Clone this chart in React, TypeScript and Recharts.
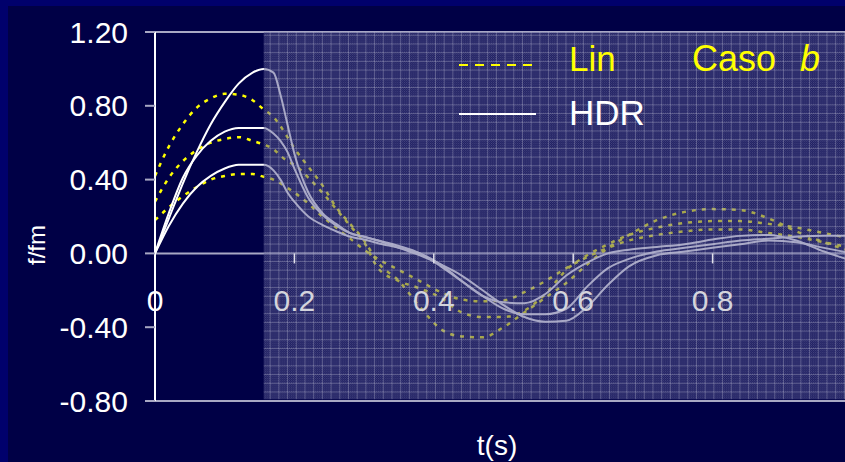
import { LineChart, Line, XAxis, YAxis, ReferenceLine, ReferenceArea } from 'recharts';

const TIME = [0, 0.02, 0.04, 0.06, 0.08, 0.1, 0.12, 0.14, 0.156, 0.17, 0.18, 0.19, 0.2, 0.22, 0.24, 0.26, 0.28, 0.3, 0.32, 0.35, 0.38, 0.41, 0.44, 0.47, 0.5, 0.53, 0.56, 0.59, 0.62, 0.65, 0.68, 0.72, 0.76, 0.8, 0.84, 0.88, 0.92, 0.96, 1.0];

// HDR (solid white)
const HDR_1 = [0, 0.19, 0.38, 0.55, 0.7, 0.82, 0.92, 0.98, 1.0, 0.98, 0.86, 0.7, 0.54, 0.33, 0.22, 0.16, 0.11, 0.09, 0.07, 0.03, -0.01, -0.06, -0.12, -0.2, -0.28, -0.345, -0.37, -0.365, -0.29, -0.17, -0.07, -0.01, 0.01, 0.03, 0.05, 0.07, 0.06, 0.03, 0.0];
const HDR_2 = [0, 0.22, 0.41, 0.53, 0.61, 0.66, 0.68, 0.68, 0.68, 0.65, 0.61, 0.55, 0.46, 0.3, 0.21, 0.15, 0.11, 0.09, 0.07, 0.04, 0.0, -0.07, -0.15, -0.23, -0.3, -0.33, -0.33, -0.3, -0.18, -0.08, -0.03, 0.01, 0.03, 0.05, 0.07, 0.08, 0.09, 0.095, 0.095];
const HDR_3 = [0, 0.15, 0.27, 0.36, 0.42, 0.46, 0.48, 0.48, 0.48, 0.45, 0.4, 0.33, 0.28, 0.2, 0.155, 0.12, 0.09, 0.075, 0.055, 0.03, 0.0, -0.06, -0.15, -0.23, -0.265, -0.27, -0.22, -0.12, -0.05, 0.0, 0.02, 0.035, 0.05, 0.075, 0.095, 0.1, 0.07, 0.01, -0.04];

// Lin (dashed yellow)
const LIN_1 = [0.42, 0.58, 0.7, 0.79, 0.84, 0.865, 0.86, 0.83, 0.78, 0.74, 0.69, 0.63, 0.57, 0.47, 0.37, 0.25, 0.16, 0.07, -0.05, -0.15, -0.29, -0.41, -0.45, -0.455, -0.4, -0.32, -0.24, -0.16, -0.06, 0.03, 0.1, 0.18, 0.225, 0.24, 0.235, 0.19, 0.12, 0.06, 0.01];
const LIN_2 = [0.28, 0.41, 0.5, 0.56, 0.6, 0.62, 0.63, 0.61, 0.59, 0.565, 0.53, 0.5, 0.48, 0.41, 0.33, 0.24, 0.15, 0.06, -0.08, -0.15, -0.19, -0.24, -0.32, -0.345, -0.345, -0.31, -0.22, -0.09, -0.01, 0.05, 0.1, 0.14, 0.165, 0.175, 0.175, 0.16, 0.14, 0.11, 0.08];
const LIN_3 = [0.18, 0.25, 0.31, 0.36, 0.4, 0.42, 0.43, 0.43, 0.415, 0.4, 0.38, 0.355, 0.33, 0.27, 0.2, 0.14, 0.08, 0.02, -0.03, -0.09, -0.15, -0.21, -0.25, -0.26, -0.255, -0.21, -0.15, -0.08, -0.02, 0.03, 0.07, 0.1, 0.12, 0.13, 0.13, 0.11, 0.09, 0.06, 0.03];

const Y_TICKS = [-0.8, -0.4, 0, 0.4, 0.8, 1.2];
const X_TICKS = [0, 0.2, 0.4, 0.6, 0.8];
const LOAD_END = 0.156;

const data = TIME.map((t, i) => ({
  t,
  h1: HDR_1[i], h2: HDR_2[i], h3: HDR_3[i],
  l1: LIN_1[i], l2: LIN_2[i], l3: LIN_3[i],
}));

const FONT = '"Liberation Sans", Arial, sans-serif';
const W = 860;
const H = 462;
const M = { top: 32, right: 8, left: 8, bottom: 31 };
const X_AXIS_H = 30;
const PLOT_H = H - M.top - M.bottom - X_AXIS_H;
const ZERO_Y = M.top + (PLOT_H * 1.2) / 2.0;

const XTick = (props: any) => {
  const { x, payload } = props;
  const v = payload.value;
  return (
    <g>
      {v !== 0 && <line x1={x} x2={x} y1={ZERO_Y} y2={ZERO_Y + 10} stroke="#e0e0ea" strokeWidth={1.5} />}
      <text x={x} y={ZERO_Y + 58} textAnchor="middle" fontSize={30} fontFamily={FONT} fill={v === 0 ? '#ffffff' : '#d4d4dc'}>
        {v === 0 ? '0' : v.toFixed(1)}
      </text>
    </g>
  );
};

export default function App() {
  return (
    <div style={{ position: 'absolute', left: 0, top: 0, width: 845, height: 462, overflow: 'hidden', background: '#00006c' }}>
      <div style={{ position: 'absolute', left: 8, top: 6, right: 0, bottom: 0, background: '#000046' }} />
      <svg width={0} height={0} style={{ position: 'absolute' }}>
        <defs>
          <pattern id="dither" width={2} height={2} patternUnits="userSpaceOnUse">
            <rect x={0} y={0} width={2} height={2} fill="rgba(40,40,110,0.4)" />
            <rect x={0} y={0} width={1} height={1} fill="rgba(160,160,200,0.4)" />
            <rect x={1} y={1} width={1} height={1} fill="rgba(160,160,200,0.4)" />
          </pattern>
          <pattern id="hatch" width={8.7} height={8.7} patternUnits="userSpaceOnUse">
            <rect x={0} y={0} width={8.7} height={8.7} fill="url(#dither)" />
            <rect x={0} y={0} width={8.7} height={1} fill="rgba(190,190,210,0.32)" />
            <rect x={0} y={0} width={1} height={8.7} fill="rgba(190,190,210,0.32)" />
          </pattern>
        </defs>
      </svg>
      <div style={{ position: 'absolute', left: 0, top: 0 }}>
        <LineChart width={W} height={H} data={data} margin={M}>
          <XAxis
            dataKey="t"
            type="number"
            domain={[0, 1]}
            ticks={X_TICKS}
            height={X_AXIS_H}
            axisLine={false}
            tickLine={false}
            tick={<XTick />}
            interval={0}
          />
          <YAxis
            type="number"
            domain={[-0.8, 1.2]}
            ticks={Y_TICKS}
            width={147}
            tickFormatter={(v: number) => v.toFixed(2)}
            axisLine={{ stroke: '#ffffff', strokeWidth: 2 }}
            tickLine={{ stroke: '#a8a8c4', strokeWidth: 2 }}
            tickSize={10}
            tickMargin={17}
            tick={{ fill: '#ffffff', fontSize: 30, fontFamily: FONT }}
            interval={0}
          />
          <ReferenceLine y={1.2} stroke="#a8a8c4" strokeWidth={2} />
          <ReferenceLine y={-0.8} stroke="#a8a8c4" strokeWidth={2} />
          <ReferenceLine y={0} stroke="#a8a8c4" strokeWidth={2} />
          <Line type="monotone" dataKey="l1" stroke="#ffff00" strokeWidth={2.5} strokeDasharray="4 6" dot={false} isAnimationActive={false} />
          <Line type="monotone" dataKey="l2" stroke="#ffff00" strokeWidth={2.5} strokeDasharray="4 6" dot={false} isAnimationActive={false} />
          <Line type="monotone" dataKey="l3" stroke="#ffff00" strokeWidth={2.5} strokeDasharray="4 6" dot={false} isAnimationActive={false} />
          <Line type="monotone" dataKey="h1" stroke="#ffffff" strokeWidth={2} dot={false} isAnimationActive={false} />
          <Line type="monotone" dataKey="h2" stroke="#ffffff" strokeWidth={2} dot={false} isAnimationActive={false} />
          <Line type="monotone" dataKey="h3" stroke="#ffffff" strokeWidth={2} dot={false} isAnimationActive={false} />
          <ReferenceArea x1={LOAD_END} x2={1} y1={-0.79} y2={1.2} fill="url(#hatch)" fillOpacity={1} stroke="none" zIndex={450} ifOverflow="hidden" />
        </LineChart>
      </div>
      <svg width={845} height={462} style={{ position: 'absolute', left: 0, top: 0, pointerEvents: 'none' }}>
        <line x1={459} x2={536} y1={65} y2={65} stroke="#ffff00" strokeWidth={2} strokeDasharray="9 7" />
        <text x={569} y={71} fontSize={35} fontFamily={FONT} fill="#ffff00">Lin</text>
        <line x1={459} x2={536} y1={114} y2={114} stroke="#ffffff" strokeWidth={2} />
        <text x={569} y={125} fontSize={35} fontFamily={FONT} fill="#ffffff">HDR</text>
        <text x={692} y={71} fontSize={36} fontFamily={FONT} fill="#ffff00">
          Caso<tspan dx={24} fontStyle="italic">b</tspan>
        </text>
        <text x={0} y={0} transform="translate(45 245) rotate(-90)" textAnchor="middle" fontSize={24} fontFamily={FONT} fill="#ffffff">f/fm</text>
        <text x={497} y={455} textAnchor="middle" fontSize={28} fontFamily={FONT} fill="#ffffff">t(s)</text>
      </svg>
    </div>
  );
}
